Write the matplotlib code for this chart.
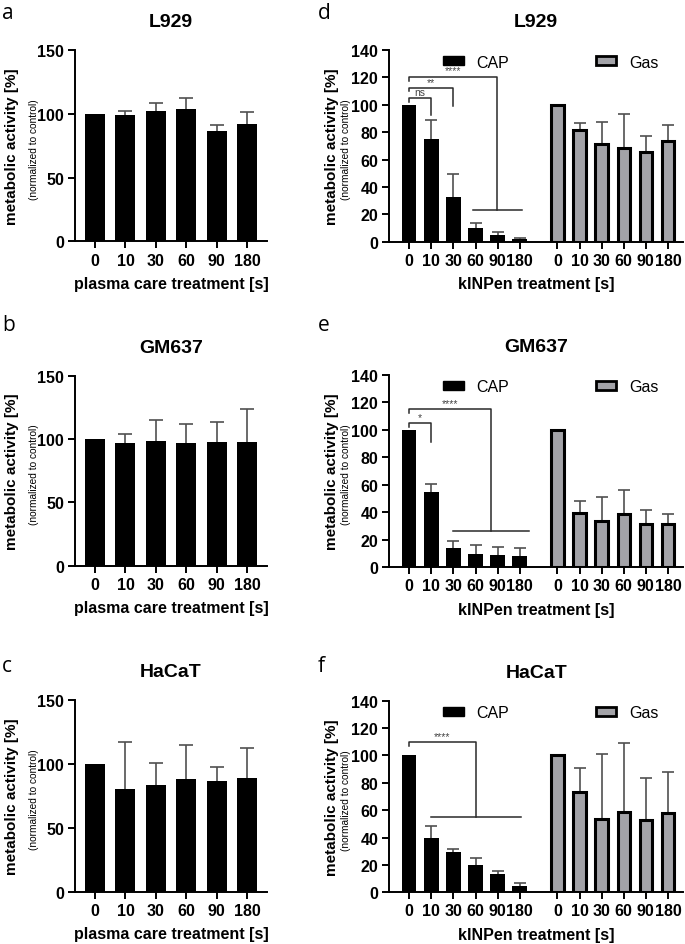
import matplotlib.pyplot as plt
import numpy as np
from matplotlib.patches import Patch

plt.rcParams['font.family'] = ['Liberation Sans', 'DejaVu Sans']

times = ['0', '10', '30', '60', '90', '180']

# plasma care treatment (left column)
pc_l929 = [100, 98.9, 102.3, 104.1, 86.4, 92.1]
pc_l929_err = [0, 3.4, 6.5, 8.3, 4.9, 9.6]
pc_gm637 = [100, 96.6, 98.7, 97.1, 97.4, 97.9]
pc_gm637_err = [0, 7.1, 16.3, 15.0, 16.0, 25.5]
pc_hacat = [100, 80.6, 83.7, 88.6, 86.5, 89.4]
pc_hacat_err = [0, 36.4, 17.4, 26.6, 11.2, 22.9]

# kINPen treatment (right column), CAP and Gas
cap_l929 = [100, 75.0, 32.4, 9.7, 5.1, 1.9]
cap_l929_err = [0, 14.1, 17.3, 3.7, 1.7, 0.5]
gas_l929 = [100, 81.6, 71.3, 68.2, 65.7, 73.8]
gas_l929_err = [0, 5.1, 15.8, 24.8, 11.7, 11.7]
cap_gm637 = [100, 54.5, 13.8, 9.9, 8.7, 8.5]
cap_gm637_err = [0, 6.0, 5.1, 6.3, 6.1, 5.8]
gas_gm637 = [100, 39.2, 33.7, 38.5, 31.5, 31.5]
gas_gm637_err = [0, 8.8, 17.2, 17.7, 10.2, 7.5]
cap_hacat = [100, 39.7, 29.2, 20.0, 13.6, 4.4]
cap_hacat_err = [0, 9.0, 2.5, 4.8, 2.2, 2.7]
gas_hacat = [100, 73.0, 53.6, 59.0, 52.8, 58.2]
gas_hacat_err = [0, 18.0, 47.4, 49.8, 31.0, 29.5]

# significance brackets: (x_start, x_end, y_top, y_left_end, y_right_end, label)
brk_l929 = [(0, 1, 104.7, 102.3, 92.5, 'ns'),
            (0, 2, 112.2, 109.8, 99.3, '**'),
            (0, 3.97, 120.5, 117.6, 23.4, '****')]
low_l929 = (2.9, 5.1, 23.4)
brk_gm637 = [(0, 1, 104.6, 101.7, 90.8, '*'),
             (0, 3.7, 115.0, 112.0, 26.2, '****')]
low_gm637 = (2.0, 5.4, 26.2)
brk_hacat = [(0, 3.0, 109.6, 107.1, 54.8, '****')]
low_hacat = (1.0, 5.05, 54.8)

GAS = '#a3a3a8'
ERR = '#505050'

fig = plt.figure(figsize=(6.85, 9.45), dpi=100)


def style(ax):
    for s in ['top', 'right']:
        ax.spines[s].set_visible(False)
    for s in ['left', 'bottom']:
        ax.spines[s].set_linewidth(1.4)
    ax.tick_params(direction='out', length=5, width=1.4, labelsize=11.5, pad=3)
    for lab in ax.get_xticklabels() + ax.get_yticklabels():
        lab.set_fontweight('bold')


def errs(ax, x, vals, err, capsize):
    x = np.asarray(x, float)
    vals = np.asarray(vals, float)
    err = np.asarray(err, float)
    m = err > 0
    eb = ax.errorbar(x[m], vals[m], yerr=[np.zeros(m.sum()), err[m]], fmt='none',
                     ecolor=ERR, elinewidth=1.2, capsize=capsize, capthick=1.2, zorder=1)
    eb[1][0].set_visible(False)


def ylabels(xmain, xnorm, ax):
    pos = ax.get_position()
    yc = (pos.y0 + pos.y1) / 2
    fig.text(xmain / 685, yc, 'metabolic activity [%]', rotation=90, ha='center',
             va='center', fontsize=11, fontweight='bold')
    fig.text(xnorm / 685, yc - 0.003, '(normalized to control)', rotation=90,
             ha='center', va='center', fontsize=7.3)


left_boxes = [0.7434, 0.4003, 0.055]
left_h = [0.2026, 0.2010, 0.2032]
left_data = [('L929', pc_l929, pc_l929_err, 'a'),
             ('GM637', pc_gm637, pc_gm637_err, 'b'),
             ('HaCaT', pc_hacat, pc_hacat_err, 'c')]
letter_y = [19, 331, 672]

for i, (title, vals, err, letter) in enumerate(left_data):
    ax = fig.add_axes([0.1095, left_boxes[i], 0.2803, left_h[i]])
    x = np.arange(len(times))
    ax.bar(x, vals, width=0.66, color='black', zorder=2)
    errs(ax, x, vals, err, 5)
    ax.set_xlim(-0.66, 5.66)
    ax.set_ylim(0, 150)
    ax.set_yticks([0, 50, 100, 150])
    ax.set_xticks(x)
    ax.set_xticklabels(times)
    ax.set_xlabel('plasma care treatment [s]', fontsize=11.5, fontweight='bold', labelpad=6)
    ax.set_title(title, fontsize=14, fontweight='bold', pad=17)
    style(ax)
    ylabels(12.5, 34, ax)
    fig.text(2 / 685, 1 - letter_y[i] / 945, letter, fontsize=15, family='Open Sans')

right_boxes = [0.7432, 0.3986, 0.0547]
right_h = [0.2029, 0.2038, 0.2028]
right_data = [('L929', cap_l929, cap_l929_err, gas_l929, gas_l929_err, brk_l929, low_l929, 'd'),
              ('GM637', cap_gm637, cap_gm637_err, gas_gm637, gas_gm637_err, brk_gm637, low_gm637, 'e'),
              ('HaCaT', cap_hacat, cap_hacat_err, gas_hacat, gas_hacat_err, brk_hacat, low_hacat, 'f')]

for i, (title, cap, cap_e, gas, gas_e, brks, low, letter) in enumerate(right_data):
    ax = fig.add_axes([0.5683, right_boxes[i], 0.4288, right_h[i]])
    xc = np.arange(len(times))
    xg = xc + 6.7
    ax.bar(xc, cap, width=0.66, color='black', zorder=2)
    ax.bar(xg, gas, width=0.56, color=GAS, edgecolor='black', linewidth=2.2, zorder=2)
    errs(ax, xc, cap, cap_e, 4)
    errs(ax, xg, gas, gas_e, 4)
    for x0, x1, yt, yl, yr, lab in brks:
        ax.plot([x0, x0, x1, x1], [yl, yt, yt, yr], color='#2a2a2a', lw=1.1, zorder=3)
        ax.text((x0 + x1) / 2, yt + 1.0, lab, ha='center', va='bottom', fontsize=7.5,
                color='#444444')
    ax.plot([low[0], low[1]], [low[2], low[2]], color='#2a2a2a', lw=1.1, zorder=3)
    ax.set_xlim(-0.9, 12.38)
    ax.set_ylim(0, 140)
    ax.set_yticks(np.arange(0, 141, 20))
    ax.set_xticks(np.concatenate([xc, xg]))
    ax.set_xticklabels(times + times)
    ax.set_xlabel('kINPen treatment [s]', fontsize=11.5, fontweight='bold', labelpad=6)
    ax.set_title(title, fontsize=14, fontweight='bold', pad=17)
    style(ax)
    handles = [Patch(facecolor='black', edgecolor='black', label='CAP'),
               Patch(facecolor=GAS, edgecolor='black', linewidth=2, label='Gas')]
    ax.legend(handles=handles, ncol=2, loc='center', bbox_to_anchor=(0.55, 0.937),
              frameon=False, fontsize=11.5, handlelength=1.3, handleheight=0.5,
              columnspacing=5.4, handletextpad=0.8)
    ylabels(331.7, 346, ax)
    fig.text(318 / 685, 1 - letter_y[i] / 945, letter, fontsize=15, family='Open Sans')

fig.savefig('out.png', dpi=100)
